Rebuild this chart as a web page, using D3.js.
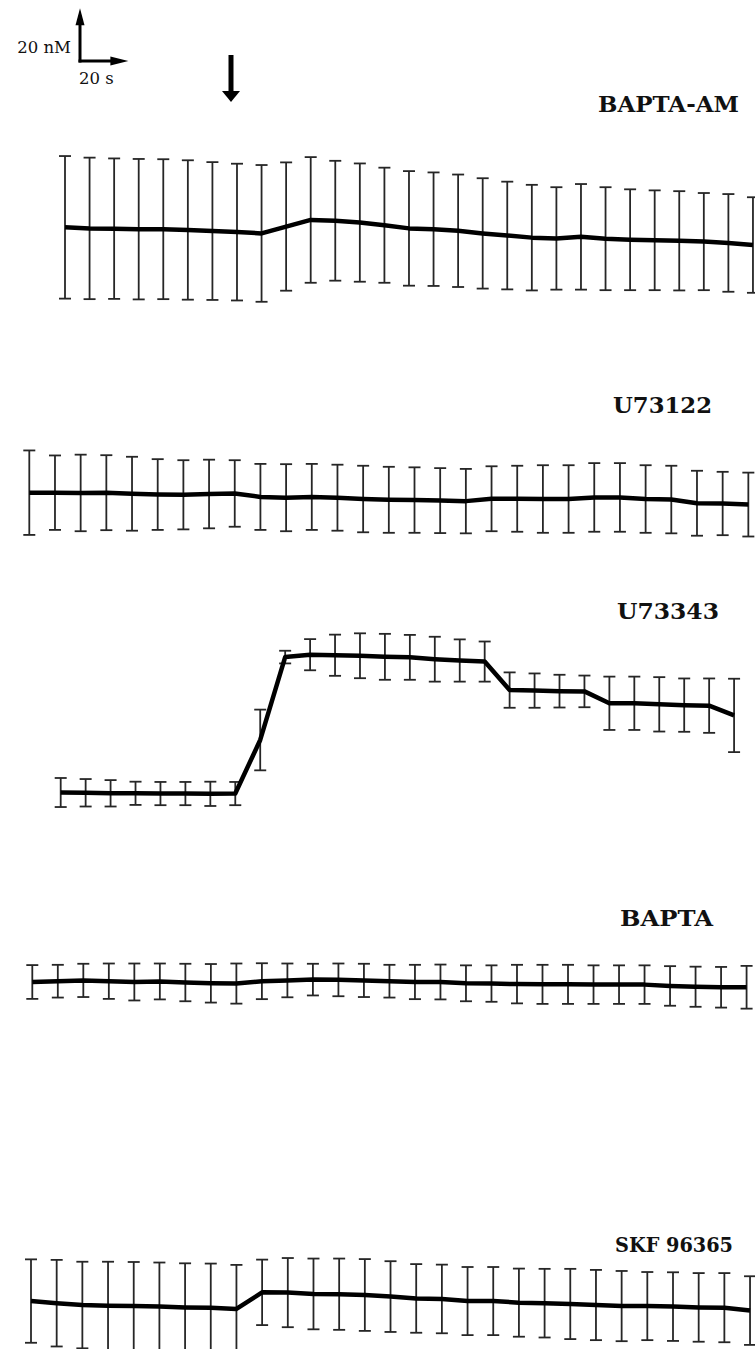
<!DOCTYPE html>
<html>
<head>
<meta charset="utf-8">
<script src="https://cdnjs.cloudflare.com/ajax/libs/d3/7.8.5/d3.min.js"></script>
<style>
  html, body { margin: 0; padding: 0; background: #fff; }
  svg { display: block; }
</style>
</head>
<body>
<script>
// Sampling times (s)
const times29 = [0,10,20,30,40,50,60,70,80,90,100,110,120,130,140,150,160,170,180,190,200,210,220,230,240,250,260,270,280];
const times28 = [0,10,20,30,40,50,60,70,80,90,100,110,120,130,140,150,160,170,180,190,200,210,220,230,240,250,260,270];

// Treatment names
const conditions = ["BAPTA-AM", "U73122", "U73343", "BAPTA", "SKF 96365"];

// [Ca2+]i means and SEM (nM) for each treatment
const baptaAmMean = [35.1,34.7,34.6,34.4,34.4,34.1,33.7,33.3,32.8,35.4,37.9,37.6,36.9,35.9,34.7,34.4,33.8,32.8,32.0,31.2,30.9,31.5,30.8,30.4,30.2,30.0,29.7,29.2,28.4];
const baptaAmSem  = [27.0,26.8,26.6,26.6,26.5,26.4,26.1,25.9,25.9,24.3,23.8,22.7,22.4,21.8,21.7,21.5,21.3,20.9,20.4,20.0,19.4,20.0,19.5,19.1,18.9,18.8,18.4,18.5,18.1];

const u73122Mean = [25.5,25.5,25.4,25.5,25.1,24.8,24.7,25.0,25.2,23.9,23.6,23.9,23.6,23.1,22.8,22.7,22.5,22.3,23.2,23.2,23.1,23.1,23.7,23.7,23.1,22.9,21.5,21.4,21.0];
const u73122Sem  = [16.0,14.1,14.5,14.2,14.0,13.4,13.1,13.0,12.6,12.5,12.7,12.5,12.5,12.6,12.5,12.4,12.3,12.2,12.3,12.5,12.8,12.8,13.0,13.0,12.8,12.8,12.3,12.0,12.1];

const u73343Mean = [14.2,14.1,13.9,13.9,13.8,13.8,13.7,13.8,34.1,65.5,66.4,66.2,66.0,65.6,65.4,64.7,64.2,63.8,53.0,52.8,52.6,52.5,48.0,48.0,47.6,47.3,47.1,43.4];
const u73343Sem  = [5.5,5.2,5.0,4.4,4.4,4.4,4.6,4.4,11.5,2.4,5.9,7.8,8.5,8.7,8.5,8.5,8.0,7.6,6.7,6.5,6.2,6.0,10.1,10.1,10.3,10.1,10.3,13.9];

const baptaMean = [14.4,14.7,15.0,14.7,14.4,14.6,14.2,13.9,13.8,14.7,15.0,15.3,15.2,15.0,14.7,14.4,14.4,13.9,13.8,13.6,13.5,13.5,13.4,13.4,13.4,12.9,12.6,12.4,12.4];
const baptaSem  = [6.4,6.2,6.3,6.7,7.0,6.8,7.1,7.3,7.6,6.8,6.4,6.0,6.2,6.3,6.2,6.5,6.6,6.8,6.9,7.3,7.4,7.4,7.3,7.3,7.3,7.5,7.6,7.7,8.1];

const skfMean = [29.9,29.1,28.4,28.1,28.0,27.8,27.5,27.4,26.9,33.2,33.1,32.6,32.5,32.2,31.6,30.9,30.7,29.9,29.9,29.3,29.1,28.8,28.4,28.0,28.0,27.8,27.5,27.4,26.3];
const skfSem  = [15.8,16.4,16.4,16.7,16.7,16.7,16.7,16.7,16.7,12.4,13.1,13.4,13.5,13.6,13.4,13.0,13.0,12.9,12.9,12.9,13.0,13.3,13.3,13.3,12.9,13.0,13.0,13.1,13.0];

// Scale bar values
const scaleConc = 20;  // nM
const scaleTime = 20;  // s

const W = 755, H = 1349;
const pxPerNM = 2.64;

const svg = d3.select("body").append("svg")
  .attr("width", W).attr("height", H)
  .attr("viewBox", `0 0 ${W} ${H}`);

// Per-trace placement: first sample x, spacing per 10 s, zero-nM baseline y, label anchor, size and width
const panels = [
  { name: conditions[0], t: times29, mean: baptaAmMean, sem: baptaAmSem, x0: 65,   step: 24.57, y0: 320,  lx: 739, ly: 112,  fs: 22.5, lw: 141 },
  { name: conditions[1], t: times29, mean: u73122Mean,  sem: u73122Sem,  x0: 29.3, step: 25.68, y0: 560,  lx: 712, ly: 413,  fs: 22.5, lw: 99 },
  { name: conditions[2], t: times28, mean: u73343Mean,  sem: u73343Sem,  x0: 60.7, step: 24.94, y0: 830,  lx: 719, ly: 619,  fs: 22.5, lw: 102 },
  { name: conditions[3], t: times29, mean: baptaMean,   sem: baptaSem,   x0: 32.3, step: 25.51, y0: 1020, lx: 713, ly: 926,  fs: 22.5, lw: 93 },
  { name: conditions[4], t: times29, mean: skfMean,     sem: skfSem,     x0: 31,   step: 25.68, y0: 1380, lx: 733, ly: 1252, fs: 21,   lw: 118 }
];

panels.forEach(p => {
  const x = d3.scaleLinear().domain([0, 10]).range([p.x0, p.x0 + p.step]);
  const y = d3.scaleLinear().domain([0, scaleConc]).range([p.y0, p.y0 - scaleConc * pxPerNM]);
  const rows = p.t.map((t, i) => ({ t, m: p.mean[i], s: p.sem[i] }));
  const g = svg.append("g");
  const capHalf = 6;

  const eb = g.append("g").attr("stroke", "#262626").attr("stroke-width", 1.8).attr("fill", "none");
  const bars = eb.selectAll("g").data(rows).join("g");
  bars.append("line")
    .attr("x1", d => x(d.t)).attr("x2", d => x(d.t))
    .attr("y1", d => y(d.m + d.s)).attr("y2", d => y(d.m - d.s));
  bars.append("line")
    .attr("x1", d => x(d.t) - capHalf).attr("x2", d => x(d.t) + capHalf)
    .attr("y1", d => y(d.m + d.s)).attr("y2", d => y(d.m + d.s));
  bars.append("line")
    .attr("x1", d => x(d.t) - capHalf).attr("x2", d => x(d.t) + capHalf)
    .attr("y1", d => y(d.m - d.s)).attr("y2", d => y(d.m - d.s));

  g.append("path")
    .datum(rows)
    .attr("fill", "none")
    .attr("stroke", "#000")
    .attr("stroke-width", 4.5)
    .attr("stroke-linejoin", "round")
    .attr("d", d3.line().x(d => x(d.t)).y(d => y(d.m)));

  g.append("text")
    .attr("x", p.lx).attr("y", p.ly)
    .attr("text-anchor", "end")
    .attr("font-family", "'DejaVu Serif', serif")
    .attr("font-weight", "bold")
    .attr("font-size", p.fs)
    .attr("textLength", p.lw)
    .attr("lengthAdjust", "spacingAndGlyphs")
    .attr("fill", "#111")
    .text(p.name);
});

// Scale bar (20 nM vertical, 20 s horizontal)
const sbX = 80, sbY = 61;
const sbLen = scaleConc * pxPerNM;
const sbTime = scaleTime * 2.42;
const sb = svg.append("g");
sb.append("line").attr("x1", sbX).attr("x2", sbX).attr("y1", sbY + 1.5).attr("y2", sbY - sbLen + 14)
  .attr("stroke", "#000").attr("stroke-width", 3);
sb.append("line").attr("x1", sbX - 1.5).attr("x2", sbX + sbTime - 16).attr("y1", sbY).attr("y2", sbY)
  .attr("stroke", "#000").attr("stroke-width", 3);
sb.append("path").attr("fill", "#000")
  .attr("d", `M${sbX},${sbY - sbLen} L${sbX - 4.5},${sbY - sbLen + 17} L${sbX + 4.5},${sbY - sbLen + 17} Z`);
sb.append("path").attr("fill", "#000")
  .attr("d", `M${sbX + sbTime},${sbY} L${sbX + sbTime - 18},${sbY - 4.5} L${sbX + sbTime - 18},${sbY + 4.5} Z`);
sb.append("text").attr("x", 71).attr("y", 53).attr("text-anchor", "end")
  .attr("font-family", "'DejaVu Serif', serif").attr("font-size", 16.5).attr("fill", "#111")
  .text(`${scaleConc} nM`);
sb.append("text").attr("x", 79).attr("y", 84).attr("text-anchor", "start")
  .attr("font-family", "'DejaVu Serif', serif").attr("font-size", 16.5).attr("fill", "#111")
  .text(`${scaleTime} s`);

// Application arrow
const arrow = svg.append("g");
arrow.append("line").attr("x1", 231).attr("x2", 231).attr("y1", 55).attr("y2", 92)
  .attr("stroke", "#000").attr("stroke-width", 5);
arrow.append("path").attr("fill", "#000")
  .attr("d", "M222,91 L240,91 L231,102 Z");
</script>
</body>
</html>
